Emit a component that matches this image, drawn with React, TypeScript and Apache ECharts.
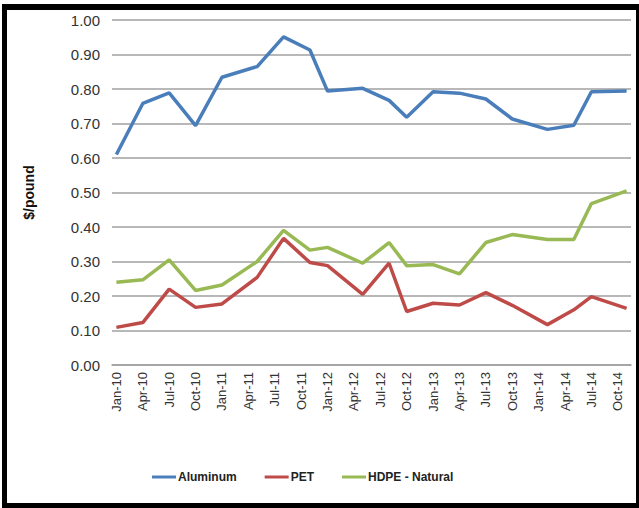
import React, { useEffect, useRef } from "react";
import * as echarts from "echarts";

const MONTHS = ["Jan", "Feb", "Mar", "Apr", "May", "Jun", "Jul", "Aug", "Sep", "Oct", "Nov", "Dec"];
const YEARS = ["10", "11", "12", "13", "14"];
// monthly categories Jan-10 .. Nov-14
const categories: string[] = [];
YEARS.forEach((y) => MONTHS.forEach((m) => categories.push(`${m}-${y}`)));
categories.pop();

const dates = [
  "Jan-10", "Apr-10", "Jul-10", "Oct-10", "Jan-11", "May-11", "Aug-11", "Nov-11",
  "Jan-12", "May-12", "Aug-12", "Oct-12", "Jan-13", "Apr-13", "Jul-13", "Oct-13",
  "Feb-14", "May-14", "Jul-14", "Nov-14",
];
const aluminum = [0.61, 0.758, 0.789, 0.694, 0.834, 0.865, 0.951, 0.913, 0.794, 0.802, 0.767, 0.718, 0.792, 0.788, 0.771, 0.713, 0.683, 0.695, 0.792, 0.794];
const pet = [0.109, 0.123, 0.22, 0.167, 0.177, 0.254, 0.367, 0.297, 0.288, 0.205, 0.295, 0.155, 0.179, 0.174, 0.21, 0.173, 0.117, 0.16, 0.198, 0.164];
const hdpe = [0.24, 0.247, 0.305, 0.216, 0.232, 0.3, 0.39, 0.333, 0.341, 0.295, 0.355, 0.288, 0.291, 0.264, 0.355, 0.378, 0.364, 0.364, 0.468, 0.505];

const seriesNames = ["Aluminum", "PET", "HDPE - Natural"];
const colors = ["#4A7EBB", "#BE4B48", "#98B954"];

export default function App() {
  const ref = useRef<HTMLDivElement>(null);
  useEffect(() => {
    document.body.style.margin = "0";
    const chart = echarts.init(ref.current!, null, { renderer: "svg" });
    const pairs = (vals: number[]) => dates.map((d, i) => [d, vals[i]]);
    chart.setOption({
      animation: false,
      backgroundColor: "#ffffff",
      grid: { left: 112, right: 8, top: 20, bottom: 143 },
      legend: {
        data: seriesNames,
        left: 147,
        top: 466,
        icon: "rect",
        itemWidth: 24,
        itemHeight: 3,
        itemGap: 28,
        textStyle: {
          fontFamily: "Liberation Sans, Arial",
          fontWeight: "bold",
          fontSize: 12,
          color: "#222",
          padding: [0, 0, 0, -3],
        },
      },
      xAxis: {
        type: "category",
        data: categories,
        boundaryGap: true,
        axisLine: { lineStyle: { color: "#a0a0a0", width: 1.5 } },
        axisTick: { show: false },
        axisLabel: {
          interval: 2,
          rotate: 90,
          margin: 7,
          fontFamily: "Liberation Sans, Arial",
          fontSize: 13,
          color: "#333",
        },
      },
      yAxis: {
        type: "value",
        min: 0,
        max: 1,
        interval: 0.1,
        name: "$/pound",
        nameLocation: "middle",
        nameGap: 76,
        nameTextStyle: {
          fontFamily: "Liberation Sans, Arial",
          fontWeight: "bold",
          fontSize: 14,
          color: "#111",
        },
        axisLine: { show: false },
        axisTick: { show: false },
        splitLine: { lineStyle: { color: "#a0a0a0", width: 1.5 } },
        axisLabel: {
          formatter: (v: number) => v.toFixed(2),
          margin: 12,
          fontFamily: "Liberation Sans, Arial",
          fontSize: 15,
          color: "#333",
        },
      },
      series: [aluminum, pet, hdpe].map((vals, i) => ({
        name: seriesNames[i],
        type: "line",
        data: pairs(vals),
        showSymbol: false,
        symbol: "none",
        itemStyle: { color: colors[i] },
        lineStyle: { color: colors[i], width: 3.5 },
      })),
      graphic: [
        { type: "rect", shape: { x: 2, y: 4, width: 5, height: 504 }, style: { fill: "#000" } },
        { type: "rect", shape: { x: 2, y: 4, width: 637, height: 6 }, style: { fill: "#000" } },
        { type: "rect", shape: { x: 2, y: 503, width: 637, height: 5 }, style: { fill: "#000" } },
        { type: "rect", shape: { x: 636, y: 4, width: 3, height: 504 }, style: { fill: "#000" } },
      ],
    });
    return () => chart.dispose();
  }, []);
  return <div ref={ref} style={{ width: 639, height: 508 }} />;
}
